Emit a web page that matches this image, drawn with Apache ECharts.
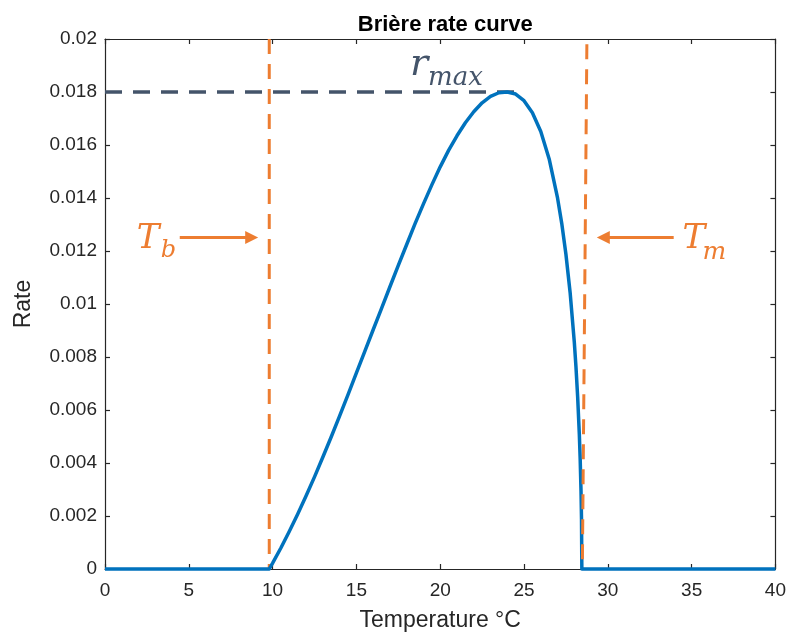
<!DOCTYPE html>
<html>
<head>
<meta charset="utf-8">
<script src="https://cdn.jsdelivr.net/npm/echarts@6/dist/echarts.min.js"></script>
<style>
  html, body { margin: 0; padding: 0; background: #ffffff; }
  #chart { width: 789px; height: 637px; }
</style>
</head>
<body>
<div id="chart"></div>
<script>
// Development rate versus temperature (Brière model), zero outside [Tb, Tm]
const temperature = [
  0, 9.8, 10, 10.5, 11, 11.5, 12, 12.5, 13, 13.5, 14, 14.5, 15, 15.5, 16, 16.5,
  17, 17.5, 18, 18.5, 19, 19.5, 20, 20.5, 21, 21.5, 22, 22.5, 23, 23.5, 24,
  24.5, 25, 25.5, 26, 26.5, 27, 27.25, 27.5, 27.75, 28, 28.1, 28.2, 28.3,
  28.35, 28.4, 28.43, 28.45, 40
];
const rate = [
  0, 0, 0.000221, 0.000803, 0.001422, 0.002075, 0.002761, 0.003476, 0.004225,
  0.004991, 0.005782, 0.006583, 0.007399, 0.008216, 0.009028, 0.009837,
  0.010651, 0.011455, 0.012246, 0.01303, 0.013778, 0.014495, 0.015175,
  0.015796, 0.016347, 0.016837, 0.017256, 0.017593, 0.017836, 0.017972, 0.018,
  0.017923, 0.017673, 0.017218, 0.016508, 0.015474, 0.014003, 0.013043,
  0.011879, 0.010435, 0.00856, 0.007617, 0.006496, 0.005077, 0.004164,
  0.002958, 0.001876, 0, 0
];

// Axis ticks
const xTicks = [0, 5, 10, 15, 20, 25, 30, 35, 40];
const yTicks = ['0', '0.002', '0.004', '0.006', '0.008', '0.01', '0.012', '0.014', '0.016', '0.018', '0.02'];

// Annotation geometry, in data units
const tbLine = [[9.8, 0.02], [9.8, 0]];          // lower threshold Tb
const tmLine = [[28.75, 0.0198], [28.48, 0]];    // upper threshold Tm
const rmaxLine = [[0, 0.018], [24.9, 0.018]];    // maximum rate
const tbArrow = [[4.46, 0.01251], [8.75, 0.01251]];
const tmArrow = [[33.93, 0.01251], [29.73, 0.01251]];
const tbLabel = [1.9, 0.01245];
const tmLabel = [34.45, 0.01245];
const rmaxLabel = [18.2, 0.0190];
const titleAnchor = [20, 0.02];

const ORANGE = '#ED7D31';
const SLATE = '#44546A';
const BLUE = '#0072BD';
const INK = '#262626';

const chart = echarts.init(document.getElementById('chart'), null, { renderer: 'canvas' });

const baseAxis = {
  type: 'value',
  axisLine: { show: true, onZero: false, lineStyle: { color: INK, width: 1.2 } },
  axisTick: { show: true, inside: true, length: 5, lineStyle: { color: INK, width: 1.2 } },
  splitLine: { show: false }
};

const fontFam = 'Liberation Sans, Arial, sans-serif';

chart.setOption({
  animation: false,
  backgroundColor: '#ffffff',
  grid: { left: 105, right: 12, top: 39, bottom: 67, containLabel: false },
  xAxis: [
    Object.assign({}, baseAxis, {
      position: 'bottom', min: 0, max: 40, interval: 5,
      axisLabel: {
        color: INK, fontSize: 19, fontFamily: fontFam, margin: 12,
        formatter: v => (xTicks.indexOf(v) >= 0 ? String(v) : '')
      },
      name: 'Temperature °C', nameLocation: 'middle', nameGap: 40,
      nameTextStyle: { color: INK, fontSize: 23, fontFamily: fontFam }
    }),
    Object.assign({}, baseAxis, {
      position: 'top', min: 0, max: 40, interval: 5,
      axisLabel: { show: false }
    })
  ],
  yAxis: [
    Object.assign({}, baseAxis, {
      position: 'left', min: 0, max: 0.02, interval: 0.002,
      axisLabel: {
        color: INK, fontSize: 19, fontFamily: fontFam, margin: 8,
        formatter: v => yTicks[Math.round(v / 0.002)]
      },
      name: 'Rate', nameLocation: 'middle', nameGap: 70,
      nameTextStyle: { color: INK, fontSize: 23, fontFamily: fontFam }
    }),
    Object.assign({}, baseAxis, {
      position: 'right', min: 0, max: 0.02, interval: 0.002,
      axisLabel: { show: false }
    })
  ],
  series: [
    {
      name: 'rmax',
      type: 'line',
      data: rmaxLine,
      showSymbol: false,
      silent: true,
      z: 3,
      lineStyle: { color: SLATE, width: 3.5, type: [17, 11] }
    },
    {
      name: 'Tb',
      type: 'line',
      data: tbLine,
      showSymbol: false,
      silent: true,
      z: 3,
      lineStyle: { color: ORANGE, width: 3, type: [15, 10] },
      markLine: {
        silent: true,
        symbol: ['none', 'triangle'],
        symbolSize: 13,
        label: { show: false },
        lineStyle: { color: ORANGE, width: 3, type: 'solid' },
        data: [
          [{ coord: tbArrow[0] }, { coord: tbArrow[1] }],
          [{ coord: tmArrow[0] }, { coord: tmArrow[1] }]
        ]
      }
    },
    {
      name: 'Rate',
      type: 'line',
      data: temperature.map((t, i) => [t, rate[i]]),
      showSymbol: false,
      clip: false,
      silent: true,
      z: 4,
      lineStyle: { color: BLUE, width: 3.5, join: 'round' }
    },
    {
      name: 'Tm',
      type: 'line',
      data: tmLine,
      showSymbol: false,
      silent: true,
      z: 5,
      lineStyle: { color: ORANGE, width: 3, type: [15, 10] }
    }
  ]
});

// Title centred over the plot area
const titleX = chart.convertToPixel({ gridIndex: 0 }, titleAnchor)[0];

// Math-style labels: italic symbol plus a lowered subscript
const mathFont = (size) => 'italic ' + size + 'px "DejaVu Serif", "Liberation Serif", serif';
function mathLabel(anchor, main, sub, color, mainSize, subSize, subDx, subDy) {
  const p = chart.convertToPixel({ gridIndex: 0 }, anchor);
  return [
    {
      type: 'text', x: p[0], y: p[1], silent: true, z: 10,
      style: { text: main, font: mathFont(mainSize), fill: color, align: 'left', verticalAlign: 'middle' }
    },
    {
      type: 'text', x: p[0] + subDx, y: p[1] + subDy, silent: true, z: 10,
      style: { text: sub, font: mathFont(subSize), fill: color, align: 'left', verticalAlign: 'middle' }
    }
  ];
}

chart.setOption({
  title: {
    text: 'Brière rate curve',
    left: titleX,
    textAlign: 'center',
    top: 9,
    textStyle: { fontFamily: fontFam, fontWeight: 'bold', fontSize: 22, color: '#000000' }
  },
  graphic: [].concat(
    mathLabel(tbLabel, 'T', 'b', ORANGE, 34, 24, 24, 12),
    mathLabel(tmLabel, 'T', 'm', ORANGE, 34, 25, 20, 13),
    mathLabel(rmaxLabel, 'r', 'max', SLATE, 38, 26, 18, 13)
  )
});
</script>
</body>
</html>
